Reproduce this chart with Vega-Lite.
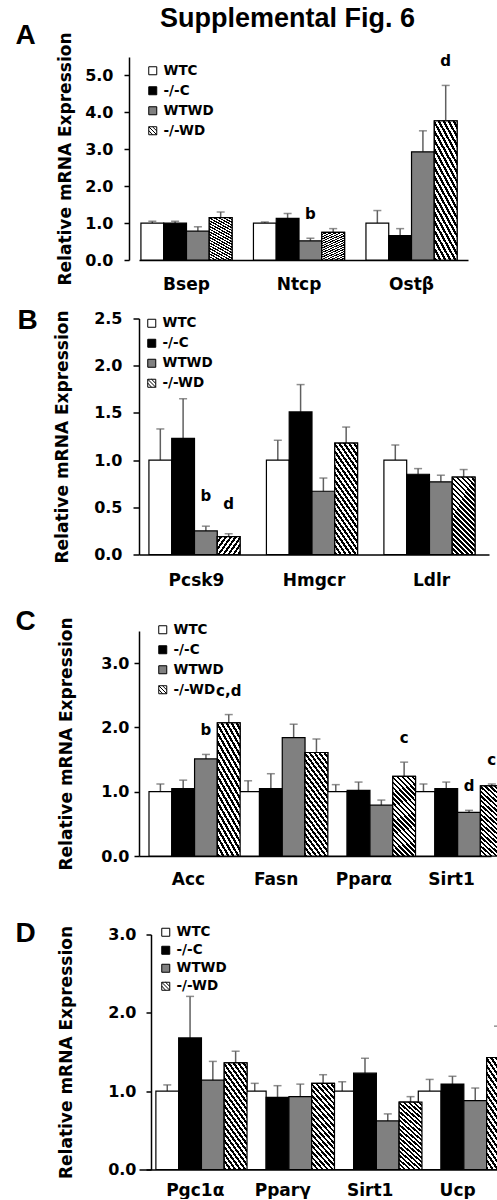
{
  "$schema": "https://vega.github.io/schema/vega-lite/v6.json",
  "padding": {"left": 15, "top": 5, "right": 0, "bottom": 0},
  "background": "white",
  "title": {"text": "Supplemental Fig. 6", "anchor": "start", "frame": "group", "dx": 21, "offset": -32, "baseline": "alphabetic", "font": "Liberation Sans", "fontSize": 27, "fontWeight": "bold", "color": "black"},
  "spacing": 14.5,
  "resolve": {"scale": {"x": "independent", "y": "independent", "color": "independent"}, "legend": {"color": "independent"}},
  "config": {
    "view": {"stroke": null},
    "axis": {"labelFont": "DejaVu Sans", "labelFontWeight": "bold", "labelFontSize": 16, "labelColor": "black", "titleFont": "DejaVu Sans", "titleFontSize": 17, "titleFontWeight": "bold", "titleColor": "black", "domainColor": "black", "domainWidth": 1.5, "tickColor": "black", "tickWidth": 1.5, "tickSize": 5, "grid": false},
    "legend": {"labelFont": "DejaVu Sans", "labelFontSize": 13.5, "labelFontWeight": "bold", "labelColor": "black", "symbolType": "square", "symbolSize": 64, "symbolStrokeColor": "black", "symbolStrokeWidth": 1, "rowPadding": 5, "padding": 0, "labelOffset": 4, "orient": "none", "title": null},
    "title": {"font": "Liberation Sans", "fontSize": 28, "fontWeight": "bold", "color": "black"}
  },
  "datasets": {
    "A": [
      {"gene": "Bsep", "group": "WTC", "mean": 1.00, "upper": 1.05},
      {"gene": "Bsep", "group": "-/-C", "mean": 1.00, "upper": 1.05},
      {"gene": "Bsep", "group": "WTWD", "mean": 0.78, "upper": 0.90},
      {"gene": "Bsep", "group": "-/-WD", "mean": 1.15, "upper": 1.30},
      {"gene": "Ntcp", "group": "WTC", "mean": 1.00, "upper": 1.03},
      {"gene": "Ntcp", "group": "-/-C", "mean": 1.13, "upper": 1.26},
      {"gene": "Ntcp", "group": "WTWD", "mean": 0.52, "upper": 0.59, "sig": "b"},
      {"gene": "Ntcp", "group": "-/-WD", "mean": 0.75, "upper": 0.85},
      {"gene": "Ostβ", "group": "WTC", "mean": 1.00, "upper": 1.34},
      {"gene": "Ostβ", "group": "-/-C", "mean": 0.66, "upper": 0.85},
      {"gene": "Ostβ", "group": "WTWD", "mean": 2.93, "upper": 3.50},
      {"gene": "Ostβ", "group": "-/-WD", "mean": 3.77, "upper": 4.73, "sig": "d"}
    ],
    "B": [
      {"gene": "Pcsk9", "group": "WTC", "mean": 1.00, "upper": 1.33},
      {"gene": "Pcsk9", "group": "-/-C", "mean": 1.23, "upper": 1.65},
      {"gene": "Pcsk9", "group": "WTWD", "mean": 0.25, "upper": 0.30, "sig": "b"},
      {"gene": "Pcsk9", "group": "-/-WD", "mean": 0.19, "upper": 0.22, "sig": "d"},
      {"gene": "Hmgcr", "group": "WTC", "mean": 1.00, "upper": 1.21},
      {"gene": "Hmgcr", "group": "-/-C", "mean": 1.51, "upper": 1.80},
      {"gene": "Hmgcr", "group": "WTWD", "mean": 0.67, "upper": 0.81},
      {"gene": "Hmgcr", "group": "-/-WD", "mean": 1.18, "upper": 1.35},
      {"gene": "Ldlr", "group": "WTC", "mean": 1.00, "upper": 1.16},
      {"gene": "Ldlr", "group": "-/-C", "mean": 0.85, "upper": 0.91},
      {"gene": "Ldlr", "group": "WTWD", "mean": 0.77, "upper": 0.84},
      {"gene": "Ldlr", "group": "-/-WD", "mean": 0.82, "upper": 0.90}
    ],
    "C": [
      {"gene": "Acc", "group": "WTC", "mean": 1.00, "upper": 1.12},
      {"gene": "Acc", "group": "-/-C", "mean": 1.05, "upper": 1.18},
      {"gene": "Acc", "group": "WTWD", "mean": 1.51, "upper": 1.58, "sig": "b"},
      {"gene": "Acc", "group": "-/-WD", "mean": 2.07, "upper": 2.20, "sig": "c,d"},
      {"gene": "Fasn", "group": "WTC", "mean": 1.00, "upper": 1.17},
      {"gene": "Fasn", "group": "-/-C", "mean": 1.05, "upper": 1.28},
      {"gene": "Fasn", "group": "WTWD", "mean": 1.84, "upper": 2.05},
      {"gene": "Fasn", "group": "-/-WD", "mean": 1.61, "upper": 1.82},
      {"gene": "Pparα", "group": "WTC", "mean": 1.00, "upper": 1.11},
      {"gene": "Pparα", "group": "-/-C", "mean": 1.02, "upper": 1.15},
      {"gene": "Pparα", "group": "WTWD", "mean": 0.79, "upper": 0.87},
      {"gene": "Pparα", "group": "-/-WD", "mean": 1.24, "upper": 1.46, "sig": "c"},
      {"gene": "Sirt1", "group": "WTC", "mean": 1.00, "upper": 1.12},
      {"gene": "Sirt1", "group": "-/-C", "mean": 1.05, "upper": 1.15},
      {"gene": "Sirt1", "group": "WTWD", "mean": 0.68, "upper": 0.71, "sig": "d"},
      {"gene": "Sirt1", "group": "-/-WD", "mean": 1.09, "upper": 1.12, "sig": "c"}
    ],
    "D": [
      {"gene": "Pgc1α", "group": "WTC", "mean": 1.00, "upper": 1.08},
      {"gene": "Pgc1α", "group": "-/-C", "mean": 1.68, "upper": 2.21},
      {"gene": "Pgc1α", "group": "WTWD", "mean": 1.14, "upper": 1.38},
      {"gene": "Pgc1α", "group": "-/-WD", "mean": 1.36, "upper": 1.51},
      {"gene": "Pparγ", "group": "WTC", "mean": 1.00, "upper": 1.10},
      {"gene": "Pparγ", "group": "-/-C", "mean": 0.92, "upper": 1.07},
      {"gene": "Pparγ", "group": "WTWD", "mean": 0.93, "upper": 1.09},
      {"gene": "Pparγ", "group": "-/-WD", "mean": 1.10, "upper": 1.21},
      {"gene": "Sirt1", "group": "WTC", "mean": 1.00, "upper": 1.12},
      {"gene": "Sirt1", "group": "-/-C", "mean": 1.23, "upper": 1.42},
      {"gene": "Sirt1", "group": "WTWD", "mean": 0.62, "upper": 0.71},
      {"gene": "Sirt1", "group": "-/-WD", "mean": 0.86, "upper": 0.93},
      {"gene": "Ucp", "group": "WTC", "mean": 1.00, "upper": 1.15},
      {"gene": "Ucp", "group": "-/-C", "mean": 1.09, "upper": 1.19},
      {"gene": "Ucp", "group": "WTWD", "mean": 0.88, "upper": 1.04},
      {"gene": "Ucp", "group": "-/-WD", "mean": 1.43, "upper": 1.83}
    ]
  },
  "vconcat": [
    {
      "width": 329, "height": 203,
      "title": {"text": "A", "orient": "left", "angle": 0, "anchor": "end", "frame": "group", "offset": 0, "baseline": "top", "dy": -35},
      "data": {"name": "A"},
      "encoding": {
        "x": {"field": "gene", "type": "nominal", "sort": ["Bsep", "Ntcp", "Ostβ"], "title": null,
              "scale": {"paddingInner": 0.19, "paddingOuter": 0.057, "align": 0.15},
              "axis": {"labelAngle": 0, "ticks": false, "labelPadding": 16, "labelFontSize": 17}},
        "xOffset": {"field": "group", "type": "nominal", "sort": ["WTC", "-/-C", "WTWD", "-/-WD"], "scale": {"paddingInner": 0, "paddingOuter": 0}}
      },
      "layer": [
        {"mark": {"type": "rule", "color": "#606060", "strokeWidth": 1.5},
         "encoding": {"y": {"field": "mean", "type": "quantitative", "title": "Relative mRNA Expression", "scale": {"domain": [0, 5.5], "nice": false},
                            "axis": {"values": [0, 1, 2, 3, 4, 5], "format": ".1f", "offset": 10, "labelPadding": 11, "titleX": -64, "titleY": 101.5, "titleAlign": "center", "titleBaseline": "middle"}},
                      "y2": {"field": "upper"}}},
        {"mark": {"type": "tick", "orient": "horizontal", "size": 8, "thickness": 1.5, "color": "#606060"},
         "encoding": {"y": {"field": "upper", "type": "quantitative", "title": "Relative mRNA Expression"}}},
        {"mark": {"type": "bar", "stroke": "black", "strokeWidth": 1.2},
         "encoding": {"y": {"field": "mean", "type": "quantitative", "title": "Relative mRNA Expression"},
                      "color": {"field": "group", "type": "nominal", "scale": {"domain": ["WTC", "-/-C", "WTWD", "-/-WD"], "range": ["white", "black", "#808080", "white"]},
                                "legend": {"legendX": 7, "legendY": 7, "encode": {"symbols": {"update": {
                                  "stroke": {"value": "black"}, "strokeWidth": {"value": 1},
                                  "shape": [{"test": "datum.value === '-/-WD'", "value": "M-1,-1H1V1H-1Z M-1,-1L1,1 M-1,-0.05L-0.05,1 M-0.05,-1L1,0.05"}, {"value": "square"}]
                                }}}}}}},
        {"transform": [{"filter": "datum.group === '-/-WD'"}],
         "mark": {"type": "bar", "stroke": "black", "strokeWidth": 1.2, "fill": {"gradient": "linear", "x1": 0, "y1": 1, "x2": 0.358, "y2": -0.193, "stops": [
            {"offset": 0, "color": "black"}, {"offset": 0.025, "color": "black"}, {"offset": 0.025, "color": "white"}, {"offset": 0.05, "color": "white"},
            {"offset": 0.05, "color": "black"}, {"offset": 0.075, "color": "black"}, {"offset": 0.075, "color": "white"}, {"offset": 0.1, "color": "white"},
            {"offset": 0.1, "color": "black"}, {"offset": 0.125, "color": "black"}, {"offset": 0.125, "color": "white"}, {"offset": 0.15, "color": "white"},
            {"offset": 0.15, "color": "black"}, {"offset": 0.175, "color": "black"}, {"offset": 0.175, "color": "white"}, {"offset": 0.2, "color": "white"},
            {"offset": 0.2, "color": "black"}, {"offset": 0.225, "color": "black"}, {"offset": 0.225, "color": "white"}, {"offset": 0.25, "color": "white"},
            {"offset": 0.25, "color": "black"}, {"offset": 0.275, "color": "black"}, {"offset": 0.275, "color": "white"}, {"offset": 0.3, "color": "white"},
            {"offset": 0.3, "color": "black"}, {"offset": 0.325, "color": "black"}, {"offset": 0.325, "color": "white"}, {"offset": 0.35, "color": "white"},
            {"offset": 0.35, "color": "black"}, {"offset": 0.375, "color": "black"}, {"offset": 0.375, "color": "white"}, {"offset": 0.4, "color": "white"},
            {"offset": 0.4, "color": "black"}, {"offset": 0.425, "color": "black"}, {"offset": 0.425, "color": "white"}, {"offset": 0.45, "color": "white"},
            {"offset": 0.45, "color": "black"}, {"offset": 0.475, "color": "black"}, {"offset": 0.475, "color": "white"}, {"offset": 0.5, "color": "white"},
            {"offset": 0.5, "color": "black"}, {"offset": 0.525, "color": "black"}, {"offset": 0.525, "color": "white"}, {"offset": 0.55, "color": "white"},
            {"offset": 0.55, "color": "black"}, {"offset": 0.575, "color": "black"}, {"offset": 0.575, "color": "white"}, {"offset": 0.6, "color": "white"},
            {"offset": 0.6, "color": "black"}, {"offset": 0.625, "color": "black"}, {"offset": 0.625, "color": "white"}, {"offset": 0.65, "color": "white"},
            {"offset": 0.65, "color": "black"}, {"offset": 0.675, "color": "black"}, {"offset": 0.675, "color": "white"}, {"offset": 0.7, "color": "white"},
            {"offset": 0.7, "color": "black"}, {"offset": 0.725, "color": "black"}, {"offset": 0.725, "color": "white"}, {"offset": 0.75, "color": "white"},
            {"offset": 0.75, "color": "black"}, {"offset": 0.775, "color": "black"}, {"offset": 0.775, "color": "white"}, {"offset": 0.8, "color": "white"},
            {"offset": 0.8, "color": "black"}, {"offset": 0.825, "color": "black"}, {"offset": 0.825, "color": "white"}, {"offset": 0.85, "color": "white"},
            {"offset": 0.85, "color": "black"}, {"offset": 0.875, "color": "black"}, {"offset": 0.875, "color": "white"}, {"offset": 0.9, "color": "white"},
            {"offset": 0.9, "color": "black"}, {"offset": 0.925, "color": "black"}, {"offset": 0.925, "color": "white"}, {"offset": 0.95, "color": "white"},
            {"offset": 0.95, "color": "black"}, {"offset": 0.975, "color": "black"}, {"offset": 0.975, "color": "white"}, {"offset": 1, "color": "white"}]}},
         "encoding": {"y": {"field": "mean", "type": "quantitative", "title": "Relative mRNA Expression"}}},
        {"transform": [{"filter": "datum.sig"}],
         "mark": {"type": "text", "dy": -24, "baseline": "middle", "font": "DejaVu Sans", "fontSize": 15, "fontWeight": "bold", "color": "black"},
         "encoding": {"y": {"field": "upper", "type": "quantitative", "title": "Relative mRNA Expression"}, "text": {"field": "sig"}}}
      ]
    },
    {
      "width": 350, "height": 236,
      "title": {"text": "B", "orient": "left", "angle": 0, "anchor": "end", "frame": "group", "offset": -5, "baseline": "top", "dy": -12},
      "data": {"name": "B"},
      "encoding": {
        "x": {"field": "gene", "type": "nominal", "sort": ["Pcsk9", "Hmgcr", "Ldlr"], "title": null,
              "scale": {"paddingInner": 0.19, "paddingOuter": 0.0845, "align": 0.5},
              "axis": {"labelAngle": 0, "ticks": false, "labelPadding": 18, "labelFontSize": 17}},
        "xOffset": {"field": "group", "type": "nominal", "sort": ["WTC", "-/-C", "WTWD", "-/-WD"], "scale": {"paddingInner": 0, "paddingOuter": 0}}
      },
      "layer": [
        {"mark": {"type": "rule", "color": "#606060", "strokeWidth": 1.5},
         "encoding": {"y": {"field": "mean", "type": "quantitative", "title": "Relative mRNA Expression", "scale": {"domain": [0, 2.5], "nice": false},
                            "axis": {"values": [0, 0.5, 1, 1.5, 2, 2.5], "format": ".1f", "tickSize": 6, "labelPadding": 11, "titleX": -77, "titleY": 118, "titleAlign": "center", "titleBaseline": "middle"}},
                      "y2": {"field": "upper"}}},
        {"mark": {"type": "tick", "orient": "horizontal", "size": 8, "thickness": 1.5, "color": "#606060"},
         "encoding": {"y": {"field": "upper", "type": "quantitative", "title": "Relative mRNA Expression"}}},
        {"mark": {"type": "bar", "stroke": "black", "strokeWidth": 1.2},
         "encoding": {"y": {"field": "mean", "type": "quantitative", "title": "Relative mRNA Expression"},
                      "color": {"field": "group", "type": "nominal", "scale": {"domain": ["WTC", "-/-C", "WTWD", "-/-WD"], "range": ["white", "black", "#808080", "white"]},
                                "legend": {"legendX": 6, "legendY": -2, "encode": {"symbols": {"update": {
                                  "stroke": {"value": "black"}, "strokeWidth": {"value": 1},
                                  "shape": [{"test": "datum.value === '-/-WD'", "value": "M-1,-1H1V1H-1Z M-1,-1L1,1 M-1,-0.05L-0.05,1 M-0.05,-1L1,0.05"}, {"value": "square"}]
                                }}}}}}},
        {"transform": [{"filter": "datum.group === '-/-WD'"}],
         "mark": {"type": "bar", "stroke": "black", "strokeWidth": 1.2, "fill": {"gradient": "linear", "x1": 0, "y1": 1, "x2": 0.358, "y2": -0.193, "stops": [
            {"offset": 0, "color": "black"}, {"offset": 0.025, "color": "black"}, {"offset": 0.025, "color": "white"}, {"offset": 0.05, "color": "white"},
            {"offset": 0.05, "color": "black"}, {"offset": 0.075, "color": "black"}, {"offset": 0.075, "color": "white"}, {"offset": 0.1, "color": "white"},
            {"offset": 0.1, "color": "black"}, {"offset": 0.125, "color": "black"}, {"offset": 0.125, "color": "white"}, {"offset": 0.15, "color": "white"},
            {"offset": 0.15, "color": "black"}, {"offset": 0.175, "color": "black"}, {"offset": 0.175, "color": "white"}, {"offset": 0.2, "color": "white"},
            {"offset": 0.2, "color": "black"}, {"offset": 0.225, "color": "black"}, {"offset": 0.225, "color": "white"}, {"offset": 0.25, "color": "white"},
            {"offset": 0.25, "color": "black"}, {"offset": 0.275, "color": "black"}, {"offset": 0.275, "color": "white"}, {"offset": 0.3, "color": "white"},
            {"offset": 0.3, "color": "black"}, {"offset": 0.325, "color": "black"}, {"offset": 0.325, "color": "white"}, {"offset": 0.35, "color": "white"},
            {"offset": 0.35, "color": "black"}, {"offset": 0.375, "color": "black"}, {"offset": 0.375, "color": "white"}, {"offset": 0.4, "color": "white"},
            {"offset": 0.4, "color": "black"}, {"offset": 0.425, "color": "black"}, {"offset": 0.425, "color": "white"}, {"offset": 0.45, "color": "white"},
            {"offset": 0.45, "color": "black"}, {"offset": 0.475, "color": "black"}, {"offset": 0.475, "color": "white"}, {"offset": 0.5, "color": "white"},
            {"offset": 0.5, "color": "black"}, {"offset": 0.525, "color": "black"}, {"offset": 0.525, "color": "white"}, {"offset": 0.55, "color": "white"},
            {"offset": 0.55, "color": "black"}, {"offset": 0.575, "color": "black"}, {"offset": 0.575, "color": "white"}, {"offset": 0.6, "color": "white"},
            {"offset": 0.6, "color": "black"}, {"offset": 0.625, "color": "black"}, {"offset": 0.625, "color": "white"}, {"offset": 0.65, "color": "white"},
            {"offset": 0.65, "color": "black"}, {"offset": 0.675, "color": "black"}, {"offset": 0.675, "color": "white"}, {"offset": 0.7, "color": "white"},
            {"offset": 0.7, "color": "black"}, {"offset": 0.725, "color": "black"}, {"offset": 0.725, "color": "white"}, {"offset": 0.75, "color": "white"},
            {"offset": 0.75, "color": "black"}, {"offset": 0.775, "color": "black"}, {"offset": 0.775, "color": "white"}, {"offset": 0.8, "color": "white"},
            {"offset": 0.8, "color": "black"}, {"offset": 0.825, "color": "black"}, {"offset": 0.825, "color": "white"}, {"offset": 0.85, "color": "white"},
            {"offset": 0.85, "color": "black"}, {"offset": 0.875, "color": "black"}, {"offset": 0.875, "color": "white"}, {"offset": 0.9, "color": "white"},
            {"offset": 0.9, "color": "black"}, {"offset": 0.925, "color": "black"}, {"offset": 0.925, "color": "white"}, {"offset": 0.95, "color": "white"},
            {"offset": 0.95, "color": "black"}, {"offset": 0.975, "color": "black"}, {"offset": 0.975, "color": "white"}, {"offset": 1, "color": "white"}]}},
         "encoding": {"y": {"field": "mean", "type": "quantitative", "title": "Relative mRNA Expression"}}},
        {"transform": [{"filter": "datum.sig"}],
         "mark": {"type": "text", "dy": -30, "baseline": "middle", "font": "DejaVu Sans", "fontSize": 15, "fontWeight": "bold", "color": "black"},
         "encoding": {"y": {"field": "upper", "type": "quantitative", "title": "Relative mRNA Expression"}, "text": {"field": "sig"}}}
      ]
    },
    {
      "width": 352, "height": 225,
      "title": {"text": ["", "C"], "lineHeight": 4.5, "orient": "left", "angle": 0, "anchor": "end", "frame": "group", "offset": 1, "baseline": "top", "dy": -27.5},
      "data": {"name": "C"},
      "encoding": {
        "x": {"field": "gene", "type": "nominal", "sort": ["Acc", "Fasn", "Pparα", "Sirt1"], "title": null,
              "scale": {"paddingInner": 0.1, "paddingOuter": 0.057, "align": 1},
              "axis": {"labelAngle": 0, "ticks": false, "labelPadding": 15, "labelFontSize": 17}},
        "xOffset": {"field": "group", "type": "nominal", "sort": ["WTC", "-/-C", "WTWD", "-/-WD"], "scale": {"paddingInner": 0, "paddingOuter": 0}}
      },
      "layer": [
        {"mark": {"type": "rule", "color": "#606060", "strokeWidth": 1.5},
         "encoding": {"y": {"field": "mean", "type": "quantitative", "title": "Relative mRNA Expression", "scale": {"domain": [0, 3.5], "nice": false},
                            "axis": {"values": [0, 1, 2, 3], "format": ".1f", "labelPadding": 5, "titleX": -73, "titleY": 112.5, "titleAlign": "center", "titleBaseline": "middle"}},
                      "y2": {"field": "upper"}}},
        {"mark": {"type": "tick", "orient": "horizontal", "size": 8, "thickness": 1.5, "color": "#606060"},
         "encoding": {"y": {"field": "upper", "type": "quantitative", "title": "Relative mRNA Expression"}}},
        {"mark": {"type": "bar", "stroke": "black", "strokeWidth": 1.2},
         "encoding": {"y": {"field": "mean", "type": "quantitative", "title": "Relative mRNA Expression"},
                      "color": {"field": "group", "type": "nominal", "scale": {"domain": ["WTC", "-/-C", "WTWD", "-/-WD"], "range": ["white", "black", "#808080", "white"]},
                                "legend": {"legendX": 17, "legendY": -8, "encode": {"symbols": {"update": {
                                  "stroke": {"value": "black"}, "strokeWidth": {"value": 1},
                                  "shape": [{"test": "datum.value === '-/-WD'", "value": "M-1,-1H1V1H-1Z M-1,-1L1,1 M-1,-0.05L-0.05,1 M-0.05,-1L1,0.05"}, {"value": "square"}]
                                }}}}}}},
        {"transform": [{"filter": "datum.group === '-/-WD'"}],
         "mark": {"type": "bar", "stroke": "black", "strokeWidth": 1.2, "fill": {"gradient": "linear", "x1": 0, "y1": 1, "x2": 0.358, "y2": -0.193, "stops": [
            {"offset": 0, "color": "black"}, {"offset": 0.025, "color": "black"}, {"offset": 0.025, "color": "white"}, {"offset": 0.05, "color": "white"},
            {"offset": 0.05, "color": "black"}, {"offset": 0.075, "color": "black"}, {"offset": 0.075, "color": "white"}, {"offset": 0.1, "color": "white"},
            {"offset": 0.1, "color": "black"}, {"offset": 0.125, "color": "black"}, {"offset": 0.125, "color": "white"}, {"offset": 0.15, "color": "white"},
            {"offset": 0.15, "color": "black"}, {"offset": 0.175, "color": "black"}, {"offset": 0.175, "color": "white"}, {"offset": 0.2, "color": "white"},
            {"offset": 0.2, "color": "black"}, {"offset": 0.225, "color": "black"}, {"offset": 0.225, "color": "white"}, {"offset": 0.25, "color": "white"},
            {"offset": 0.25, "color": "black"}, {"offset": 0.275, "color": "black"}, {"offset": 0.275, "color": "white"}, {"offset": 0.3, "color": "white"},
            {"offset": 0.3, "color": "black"}, {"offset": 0.325, "color": "black"}, {"offset": 0.325, "color": "white"}, {"offset": 0.35, "color": "white"},
            {"offset": 0.35, "color": "black"}, {"offset": 0.375, "color": "black"}, {"offset": 0.375, "color": "white"}, {"offset": 0.4, "color": "white"},
            {"offset": 0.4, "color": "black"}, {"offset": 0.425, "color": "black"}, {"offset": 0.425, "color": "white"}, {"offset": 0.45, "color": "white"},
            {"offset": 0.45, "color": "black"}, {"offset": 0.475, "color": "black"}, {"offset": 0.475, "color": "white"}, {"offset": 0.5, "color": "white"},
            {"offset": 0.5, "color": "black"}, {"offset": 0.525, "color": "black"}, {"offset": 0.525, "color": "white"}, {"offset": 0.55, "color": "white"},
            {"offset": 0.55, "color": "black"}, {"offset": 0.575, "color": "black"}, {"offset": 0.575, "color": "white"}, {"offset": 0.6, "color": "white"},
            {"offset": 0.6, "color": "black"}, {"offset": 0.625, "color": "black"}, {"offset": 0.625, "color": "white"}, {"offset": 0.65, "color": "white"},
            {"offset": 0.65, "color": "black"}, {"offset": 0.675, "color": "black"}, {"offset": 0.675, "color": "white"}, {"offset": 0.7, "color": "white"},
            {"offset": 0.7, "color": "black"}, {"offset": 0.725, "color": "black"}, {"offset": 0.725, "color": "white"}, {"offset": 0.75, "color": "white"},
            {"offset": 0.75, "color": "black"}, {"offset": 0.775, "color": "black"}, {"offset": 0.775, "color": "white"}, {"offset": 0.8, "color": "white"},
            {"offset": 0.8, "color": "black"}, {"offset": 0.825, "color": "black"}, {"offset": 0.825, "color": "white"}, {"offset": 0.85, "color": "white"},
            {"offset": 0.85, "color": "black"}, {"offset": 0.875, "color": "black"}, {"offset": 0.875, "color": "white"}, {"offset": 0.9, "color": "white"},
            {"offset": 0.9, "color": "black"}, {"offset": 0.925, "color": "black"}, {"offset": 0.925, "color": "white"}, {"offset": 0.95, "color": "white"},
            {"offset": 0.95, "color": "black"}, {"offset": 0.975, "color": "black"}, {"offset": 0.975, "color": "white"}, {"offset": 1, "color": "white"}]}},
         "encoding": {"y": {"field": "mean", "type": "quantitative", "title": "Relative mRNA Expression"}}},
        {"transform": [{"filter": "datum.sig"}],
         "mark": {"type": "text", "dy": -24, "baseline": "middle", "font": "DejaVu Sans", "fontSize": 15, "fontWeight": "bold", "color": "black"},
         "encoding": {"y": {"field": "upper", "type": "quantitative", "title": "Relative mRNA Expression"}, "text": {"field": "sig"}}}
      ]
    },
    {
      "width": 358, "height": 235,
      "title": {"text": ["", "D"], "lineHeight": 17.9, "orient": "left", "angle": 0, "anchor": "end", "frame": "group", "offset": 1, "baseline": "top", "dy": -32.9},
      "data": {"name": "D"},
      "encoding": {
        "x": {"field": "gene", "type": "nominal", "sort": ["Pgc1α", "Pparγ", "Sirt1", "Ucp"], "title": null,
              "scale": {"paddingInner": 0.1, "paddingOuter": 0.0965, "align": 1},
              "axis": {"labelAngle": 0, "ticks": false, "labelPadding": 13, "labelFontSize": 17}},
        "xOffset": {"field": "group", "type": "nominal", "sort": ["WTC", "-/-C", "WTWD", "-/-WD"], "scale": {"paddingInner": 0, "paddingOuter": 0}}
      },
      "layer": [
        {"mark": {"type": "rule", "color": "#606060", "strokeWidth": 1.5},
         "encoding": {"y": {"field": "mean", "type": "quantitative", "title": "Relative mRNA Expression", "scale": {"domain": [0, 3], "nice": false},
                            "axis": {"values": [0, 0.5, 1, 1.5, 2, 2.5, 3], "format": ".1f", "offset": -12, "labelPadding": 10, "titleX": -85, "titleY": 117.5, "titleAlign": "center", "titleBaseline": "middle"}},
                      "y2": {"field": "upper"}}},
        {"mark": {"type": "tick", "orient": "horizontal", "size": 8, "thickness": 1.5, "color": "#606060"},
         "encoding": {"y": {"field": "upper", "type": "quantitative", "title": "Relative mRNA Expression"}}},
        {"mark": {"type": "bar", "stroke": "black", "strokeWidth": 1.2},
         "encoding": {"y": {"field": "mean", "type": "quantitative", "title": "Relative mRNA Expression"},
                      "color": {"field": "group", "type": "nominal", "scale": {"domain": ["WTC", "-/-C", "WTWD", "-/-WD"], "range": ["white", "black", "#808080", "white"]},
                                "legend": {"legendX": 20, "legendY": -9, "rowPadding": 3, "encode": {"symbols": {"update": {
                                  "stroke": {"value": "black"}, "strokeWidth": {"value": 1},
                                  "shape": [{"test": "datum.value === '-/-WD'", "value": "M-1,-1H1V1H-1Z M-1,-1L1,1 M-1,-0.05L-0.05,1 M-0.05,-1L1,0.05"}, {"value": "square"}]
                                }}}}}}},
        {"transform": [{"filter": "datum.group === '-/-WD'"}],
         "mark": {"type": "bar", "stroke": "black", "strokeWidth": 1.2, "fill": {"gradient": "linear", "x1": 0, "y1": 1, "x2": 0.358, "y2": -0.193, "stops": [
            {"offset": 0, "color": "black"}, {"offset": 0.025, "color": "black"}, {"offset": 0.025, "color": "white"}, {"offset": 0.05, "color": "white"},
            {"offset": 0.05, "color": "black"}, {"offset": 0.075, "color": "black"}, {"offset": 0.075, "color": "white"}, {"offset": 0.1, "color": "white"},
            {"offset": 0.1, "color": "black"}, {"offset": 0.125, "color": "black"}, {"offset": 0.125, "color": "white"}, {"offset": 0.15, "color": "white"},
            {"offset": 0.15, "color": "black"}, {"offset": 0.175, "color": "black"}, {"offset": 0.175, "color": "white"}, {"offset": 0.2, "color": "white"},
            {"offset": 0.2, "color": "black"}, {"offset": 0.225, "color": "black"}, {"offset": 0.225, "color": "white"}, {"offset": 0.25, "color": "white"},
            {"offset": 0.25, "color": "black"}, {"offset": 0.275, "color": "black"}, {"offset": 0.275, "color": "white"}, {"offset": 0.3, "color": "white"},
            {"offset": 0.3, "color": "black"}, {"offset": 0.325, "color": "black"}, {"offset": 0.325, "color": "white"}, {"offset": 0.35, "color": "white"},
            {"offset": 0.35, "color": "black"}, {"offset": 0.375, "color": "black"}, {"offset": 0.375, "color": "white"}, {"offset": 0.4, "color": "white"},
            {"offset": 0.4, "color": "black"}, {"offset": 0.425, "color": "black"}, {"offset": 0.425, "color": "white"}, {"offset": 0.45, "color": "white"},
            {"offset": 0.45, "color": "black"}, {"offset": 0.475, "color": "black"}, {"offset": 0.475, "color": "white"}, {"offset": 0.5, "color": "white"},
            {"offset": 0.5, "color": "black"}, {"offset": 0.525, "color": "black"}, {"offset": 0.525, "color": "white"}, {"offset": 0.55, "color": "white"},
            {"offset": 0.55, "color": "black"}, {"offset": 0.575, "color": "black"}, {"offset": 0.575, "color": "white"}, {"offset": 0.6, "color": "white"},
            {"offset": 0.6, "color": "black"}, {"offset": 0.625, "color": "black"}, {"offset": 0.625, "color": "white"}, {"offset": 0.65, "color": "white"},
            {"offset": 0.65, "color": "black"}, {"offset": 0.675, "color": "black"}, {"offset": 0.675, "color": "white"}, {"offset": 0.7, "color": "white"},
            {"offset": 0.7, "color": "black"}, {"offset": 0.725, "color": "black"}, {"offset": 0.725, "color": "white"}, {"offset": 0.75, "color": "white"},
            {"offset": 0.75, "color": "black"}, {"offset": 0.775, "color": "black"}, {"offset": 0.775, "color": "white"}, {"offset": 0.8, "color": "white"},
            {"offset": 0.8, "color": "black"}, {"offset": 0.825, "color": "black"}, {"offset": 0.825, "color": "white"}, {"offset": 0.85, "color": "white"},
            {"offset": 0.85, "color": "black"}, {"offset": 0.875, "color": "black"}, {"offset": 0.875, "color": "white"}, {"offset": 0.9, "color": "white"},
            {"offset": 0.9, "color": "black"}, {"offset": 0.925, "color": "black"}, {"offset": 0.925, "color": "white"}, {"offset": 0.95, "color": "white"},
            {"offset": 0.95, "color": "black"}, {"offset": 0.975, "color": "black"}, {"offset": 0.975, "color": "white"}, {"offset": 1, "color": "white"}]}},
         "encoding": {"y": {"field": "mean", "type": "quantitative", "title": "Relative mRNA Expression"}}}
      ]
    }
  ]
}
